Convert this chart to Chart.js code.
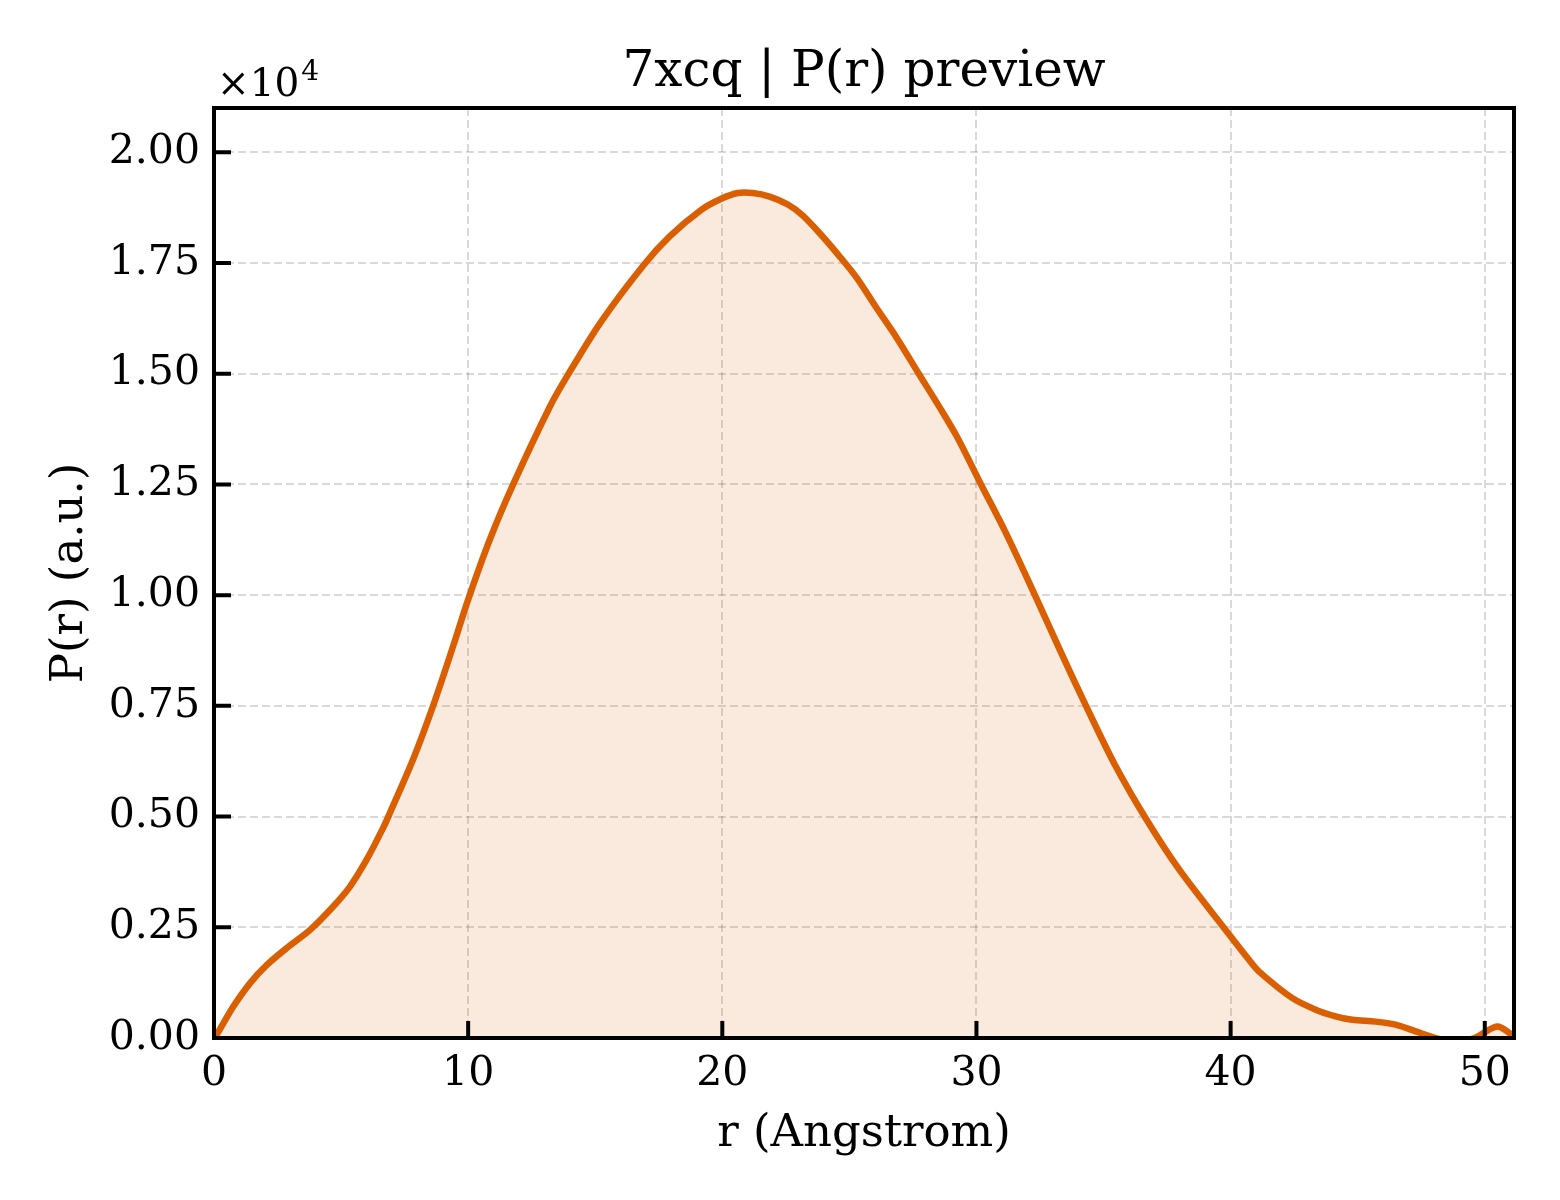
<!DOCTYPE html>
<html>
<head>
<meta charset="utf-8">
<script src="https://cdn.jsdelivr.net/npm/chart.js@4"></script>
<style>
  html, body { margin: 0; padding: 0; background: #fff; }
  #wrap { width: 1560px; height: 1200px; }
</style>
</head>
<body>
<div id="wrap"><canvas id="c"></canvas></div>
<script>
// values
const rValues = [0, 0.1, 0.76, 1.42, 2.08, 2.86, 3.78, 4.69, 5.35, 6.0, 6.66, 6.92, 7.84, 8.62, 9.41, 10.0,
  10.85, 11.77, 13.21, 13.9, 15.2, 16.9, 17.93, 19.17, 19.96, 20.61, 21.2, 21.86, 22.58, 23.17, 23.85,
  24.54, 25.27, 26.05, 26.84, 27.73, 28.54, 29.26, 30.18, 31.16, 32.3, 33.33, 34.31, 35.42,
  36.67, 37.98, 39.72, 40.73, 41.12, 42.43, 43.35, 44.13, 44.79, 45.71, 46.49, 47.28, 48.07, 48.8,
  49.6, 50.49, 51.08];
const prValues = [0, 70, 710, 1240, 1650, 2030, 2440, 2970, 3420, 4020, 4750, 5080, 6300, 7500, 8850, 9900,
  11250, 12500, 14250, 14950, 16150, 17450, 18100, 18700, 18950, 19080, 19080, 19000, 18820, 18570, 18160,
  17700, 17180, 16500, 15830, 15000, 14250, 13550, 12500, 11400, 10000, 8700, 7500, 6200,
  4950, 3800, 2500, 1760, 1500, 900, 640, 490, 410, 370, 300, 150, 0, -100,
  0, 260, 70];
const xTicks = [0, 10, 20, 30, 40, 50];
const yTicks = [0, 0.25, 0.5, 0.75, 1.0, 1.25, 1.5, 1.75, 2.0]; // x 1e4

const lineColor = '#d95f02';
const serif = '"DejaVu Serif", serif';

const points = rValues.map((r, i) => ({ x: r, y: prValues[i] }));

const decorations = {
  id: 'decorations',
  afterDraw(chart) {
    const ctx = chart.ctx;
    const a = chart.chartArea;
    const xs = chart.scales.x, ys = chart.scales.y;
    ctx.save();
    ctx.strokeStyle = '#000';
    ctx.lineWidth = 4;
    // inward ticks
    ctx.beginPath();
    xTicks.forEach(v => {
      const px = xs.getPixelForValue(v);
      ctx.moveTo(px, a.bottom);
      ctx.lineTo(px, a.bottom - 17);
    });
    yTicks.forEach(v => {
      const py = ys.getPixelForValue(v * 1e4);
      ctx.moveTo(a.left, py);
      ctx.lineTo(a.left + 17, py);
    });
    ctx.stroke();
    // frame
    ctx.strokeRect(a.left, a.top, a.right - a.left, a.bottom - a.top);

    ctx.fillStyle = '#000';
    // title
    ctx.font = '50px ' + serif;
    ctx.textAlign = 'center';
    ctx.textBaseline = 'alphabetic';
    ctx.fillText('7xcq | P(r) preview', (a.left + a.right) / 2, 86);
    // x label
    ctx.font = '45px ' + serif;
    ctx.fillText('r (Angstrom)', (a.left + a.right) / 2, 1146);
    // y label
    ctx.save();
    ctx.translate(82, (a.top + a.bottom) / 2);
    ctx.rotate(-Math.PI / 2);
    ctx.fillText('P(r) (a.u.)', 0, 0);
    ctx.restore();
    // offset text
    ctx.textAlign = 'left';
    ctx.font = '39px ' + serif;
    ctx.fillText('\u00d710', 217, 96);
    const w = ctx.measureText('\u00d710').width;
    ctx.font = '28px ' + serif;
    ctx.fillText('4', 217 + w + 2, 80);
    ctx.restore();
  }
};

new Chart(document.getElementById('c'), {
  type: 'line',
  data: {
    datasets: [{
      data: points,
      borderColor: lineColor,
      backgroundColor: 'rgba(217, 95, 2, 0.13)',
      borderWidth: 6.5,
      fill: 'origin',
      pointRadius: 0,
      tension: 0.3,
      clip: 0
    }]
  },
  options: {
    responsive: true,
    maintainAspectRatio: false,
    devicePixelRatio: 1,
    animation: false,
    layout: { padding: { top: 108, right: 46, left: 0, bottom: 0 } },
    plugins: {
      legend: { display: false },
      tooltip: { enabled: false }
    },
    scales: {
      x: {
        type: 'linear',
        min: 0,
        max: 51.15,
        afterBuildTicks: s => { s.ticks = xTicks.map(v => ({ value: v })); },
        afterFit: s => { s.height = 162; },
        grid: { color: 'rgba(0,0,0,0.15)', lineWidth: 2, drawTicks: false },
        border: { display: false, dash: [8, 4] },
        ticks: {
          padding: 12,
          color: '#000',
          font: { family: serif, size: 41 },
          maxRotation: 0,
          callback: v => String(v)
        }
      },
      y: {
        type: 'linear',
        min: 0,
        max: 21000,
        afterBuildTicks: s => { s.ticks = yTicks.map(v => ({ value: v * 1e4 })); },
        afterFit: s => { s.width = 214; },
        grid: { color: 'rgba(0,0,0,0.15)', lineWidth: 2, drawTicks: false },
        border: { display: false, dash: [8, 4] },
        ticks: {
          padding: 14,
          color: '#000',
          font: { family: serif, size: 41 },
          callback: v => (v / 1e4).toFixed(2)
        }
      }
    }
  },
  plugins: [decorations]
});
</script>
</body>
</html>
